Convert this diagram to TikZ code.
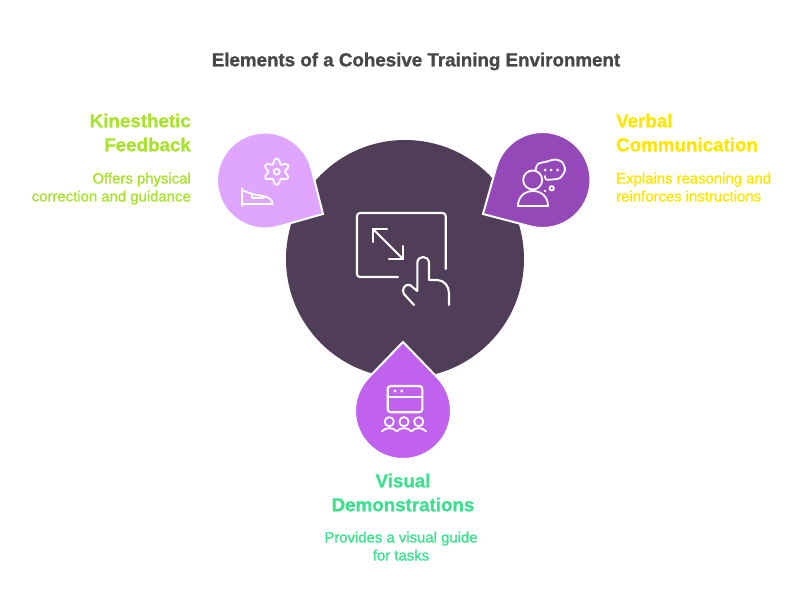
\documentclass[tikz,border=0pt]{standalone}
\usepackage{fontspec}
\setmainfont{Liberation Sans}
\newfontfamily\headfont[FakeBold=1.2]{Liberation Sans Bold}
\newfontfamily\descfont[FakeBold=1.4]{Liberation Sans}
\usetikzlibrary{calc}

\definecolor{hubcol}{HTML}{503D57}
\definecolor{kincol}{HTML}{E0A6FF}
\definecolor{vercol}{HTML}{9549B8}
\definecolor{viscol}{HTML}{C062EE}
\definecolor{kintxt}{HTML}{A9E22F}
\definecolor{vertxt}{HTML}{FDE600}
\definecolor{vistxt}{HTML}{3EE08F}

\tikzset{
    head/.style={font=\fontsize{18.75}{24}\selectfont\headfont, inner sep=0pt},
    desc/.style={font=\fontsize{14.9}{18}\selectfont\descfont, inner sep=0pt},
    icon/.style={draw=white, line width=2.1pt, line cap=round, line join=round},
    thinicon/.style={icon, line width=1.8pt},
    pxcoord/.style={shift={(0,614)}, yscale=-1},
}

% drop: centre, tip, colour
\newcommand{\drop}[3]{
    \draw [fill=#3, draw=white, line width=2pt]
        let \p1 = ($(#2)-(#1)$), \n1 = {atan2(\y1,\x1)}, \n2 = {acos(48/veclen(\x1,\y1))} in
        (#2) -- ($(#1)+(\n1+\n2:48)$) arc [start angle=\n1+\n2, delta angle=360-2*\n2, radius=48] -- cycle;
}

\begin{document}
\begin{tikzpicture}[x=1pt, y=1pt]
    \useasboundingbox (0,0) rectangle (807,614);

    \node (title) [head, text=black!72] at (416,552.5) {Elements of a Cohesive Training Environment};

    \fill [hubcol] (405,355) circle [radius=119];

    \drop{265,433.5}{323,400}{kincol}
    \drop{542.5,434}{483,400}{vercol}
    \drop{403,203}{403,272}{viscol}

    \node (kinhead) [head, text=kintxt, align=right, anchor=north east] at (191,500.5) {Kinesthetic\\Feedback};
    \node (kindesc) [desc, text=kintxt, align=right, anchor=north east] at (191,441.5) {Offers physical\\correction and guidance};
    \node (verhead) [head, text=vertxt, align=left, anchor=north west] at (616,500.5) {Verbal\\Communication};
    \node (verdesc) [desc, text=vertxt, align=left, anchor=north west] at (616,441.5) {Explains reasoning and\\reinforces instructions};
    \node (vishead) [head, text=vistxt, align=center, anchor=north] at (403,140.5) {Visual\\Demonstrations};
    \node (visdesc) [desc, text=vistxt, align=center, anchor=north] at (401,82.5) {Provides a visual guide\\for tasks};

    \begin{scope}[pxcoord]
        % hub icon
        \draw [icon, rounded corners=3] (398,277) -- (357,277) -- (357,213) -- (445.7,213) -- (445.7,269);
        \draw [icon] (373,229) -- (403,259);
        \draw [icon] (387,229) -- (373,229) -- (373,242);
        \draw [icon] (389,259) -- (403,259) -- (403,246);
        \draw [icon] (414,305) -- (404,294) .. controls (401,290) and (405,283) .. (410,285)
            -- (417.3,291) -- (417.3,263) .. controls (417.3,255) and (429,255) .. (429,263)
            -- (429,280) -- (437,280) .. controls (444,280) and (449,286) .. (449,293) -- (449,305);

        % kinesthetic icon
        \draw [thinicon, smooth, samples=90, domain=0:360] plot ({276.7+(10.6+2.4*cos(6*\x))*sin(\x)}, {171.7-(10.6+2.4*cos(6*\x))*cos(\x)}) -- cycle;
        \draw [thinicon] (276.7,171.7) circle [radius=3];
        \draw [thinicon] (241.7,188) -- (241.7,206);
        \draw [thinicon] (241.7,190) -- (252,194) -- (263,196) .. controls (269,197) and (272.5,200) .. (272.5,204) -- (241.7,204);
        \draw [thinicon] (252,194) -- (252,198) -- (264,198);

        % verbal icon
        \draw [thinicon] (532.7,180) circle [radius=9.5];
        \draw [thinicon] (518,206) .. controls (518,186) and (548,186) .. (548,206) -- cycle;
        \draw [thinicon, smooth] plot coordinates {(535.5,170) (538,164) (547,161.5) (555,159.5) (562,162) (565,170) (560,178) (552,179.5) (546,179.5) (545,176)};
        \foreach \dx in {545,551,557.5}
            \fill [white] (\dx,170) circle [radius=1.5];
        \draw [thinicon] (551.7,188.3) circle [radius=2.2];
        \fill [white] (545,191) circle [radius=1.4];

        % visual icon
        \draw [icon, rounded corners=3] (387.7,386) rectangle (422.3,412.3);
        \draw [icon] (387.7,396.7) -- (422.3,396.7);
        \fill [white] (395,391) circle [radius=1.6];
        \fill [white] (401.7,391) circle [radius=1.6];
        \foreach \cx in {389.3,404,418.7} {
            \draw [thinicon] (\cx,421.7) circle [radius=4.6];
            \draw [thinicon] (\cx-7.5,431.5) .. controls (\cx-4,427) and (\cx+4,427) .. (\cx+7.5,431.5);
        }
    \end{scope}
\end{tikzpicture}
\end{document}
